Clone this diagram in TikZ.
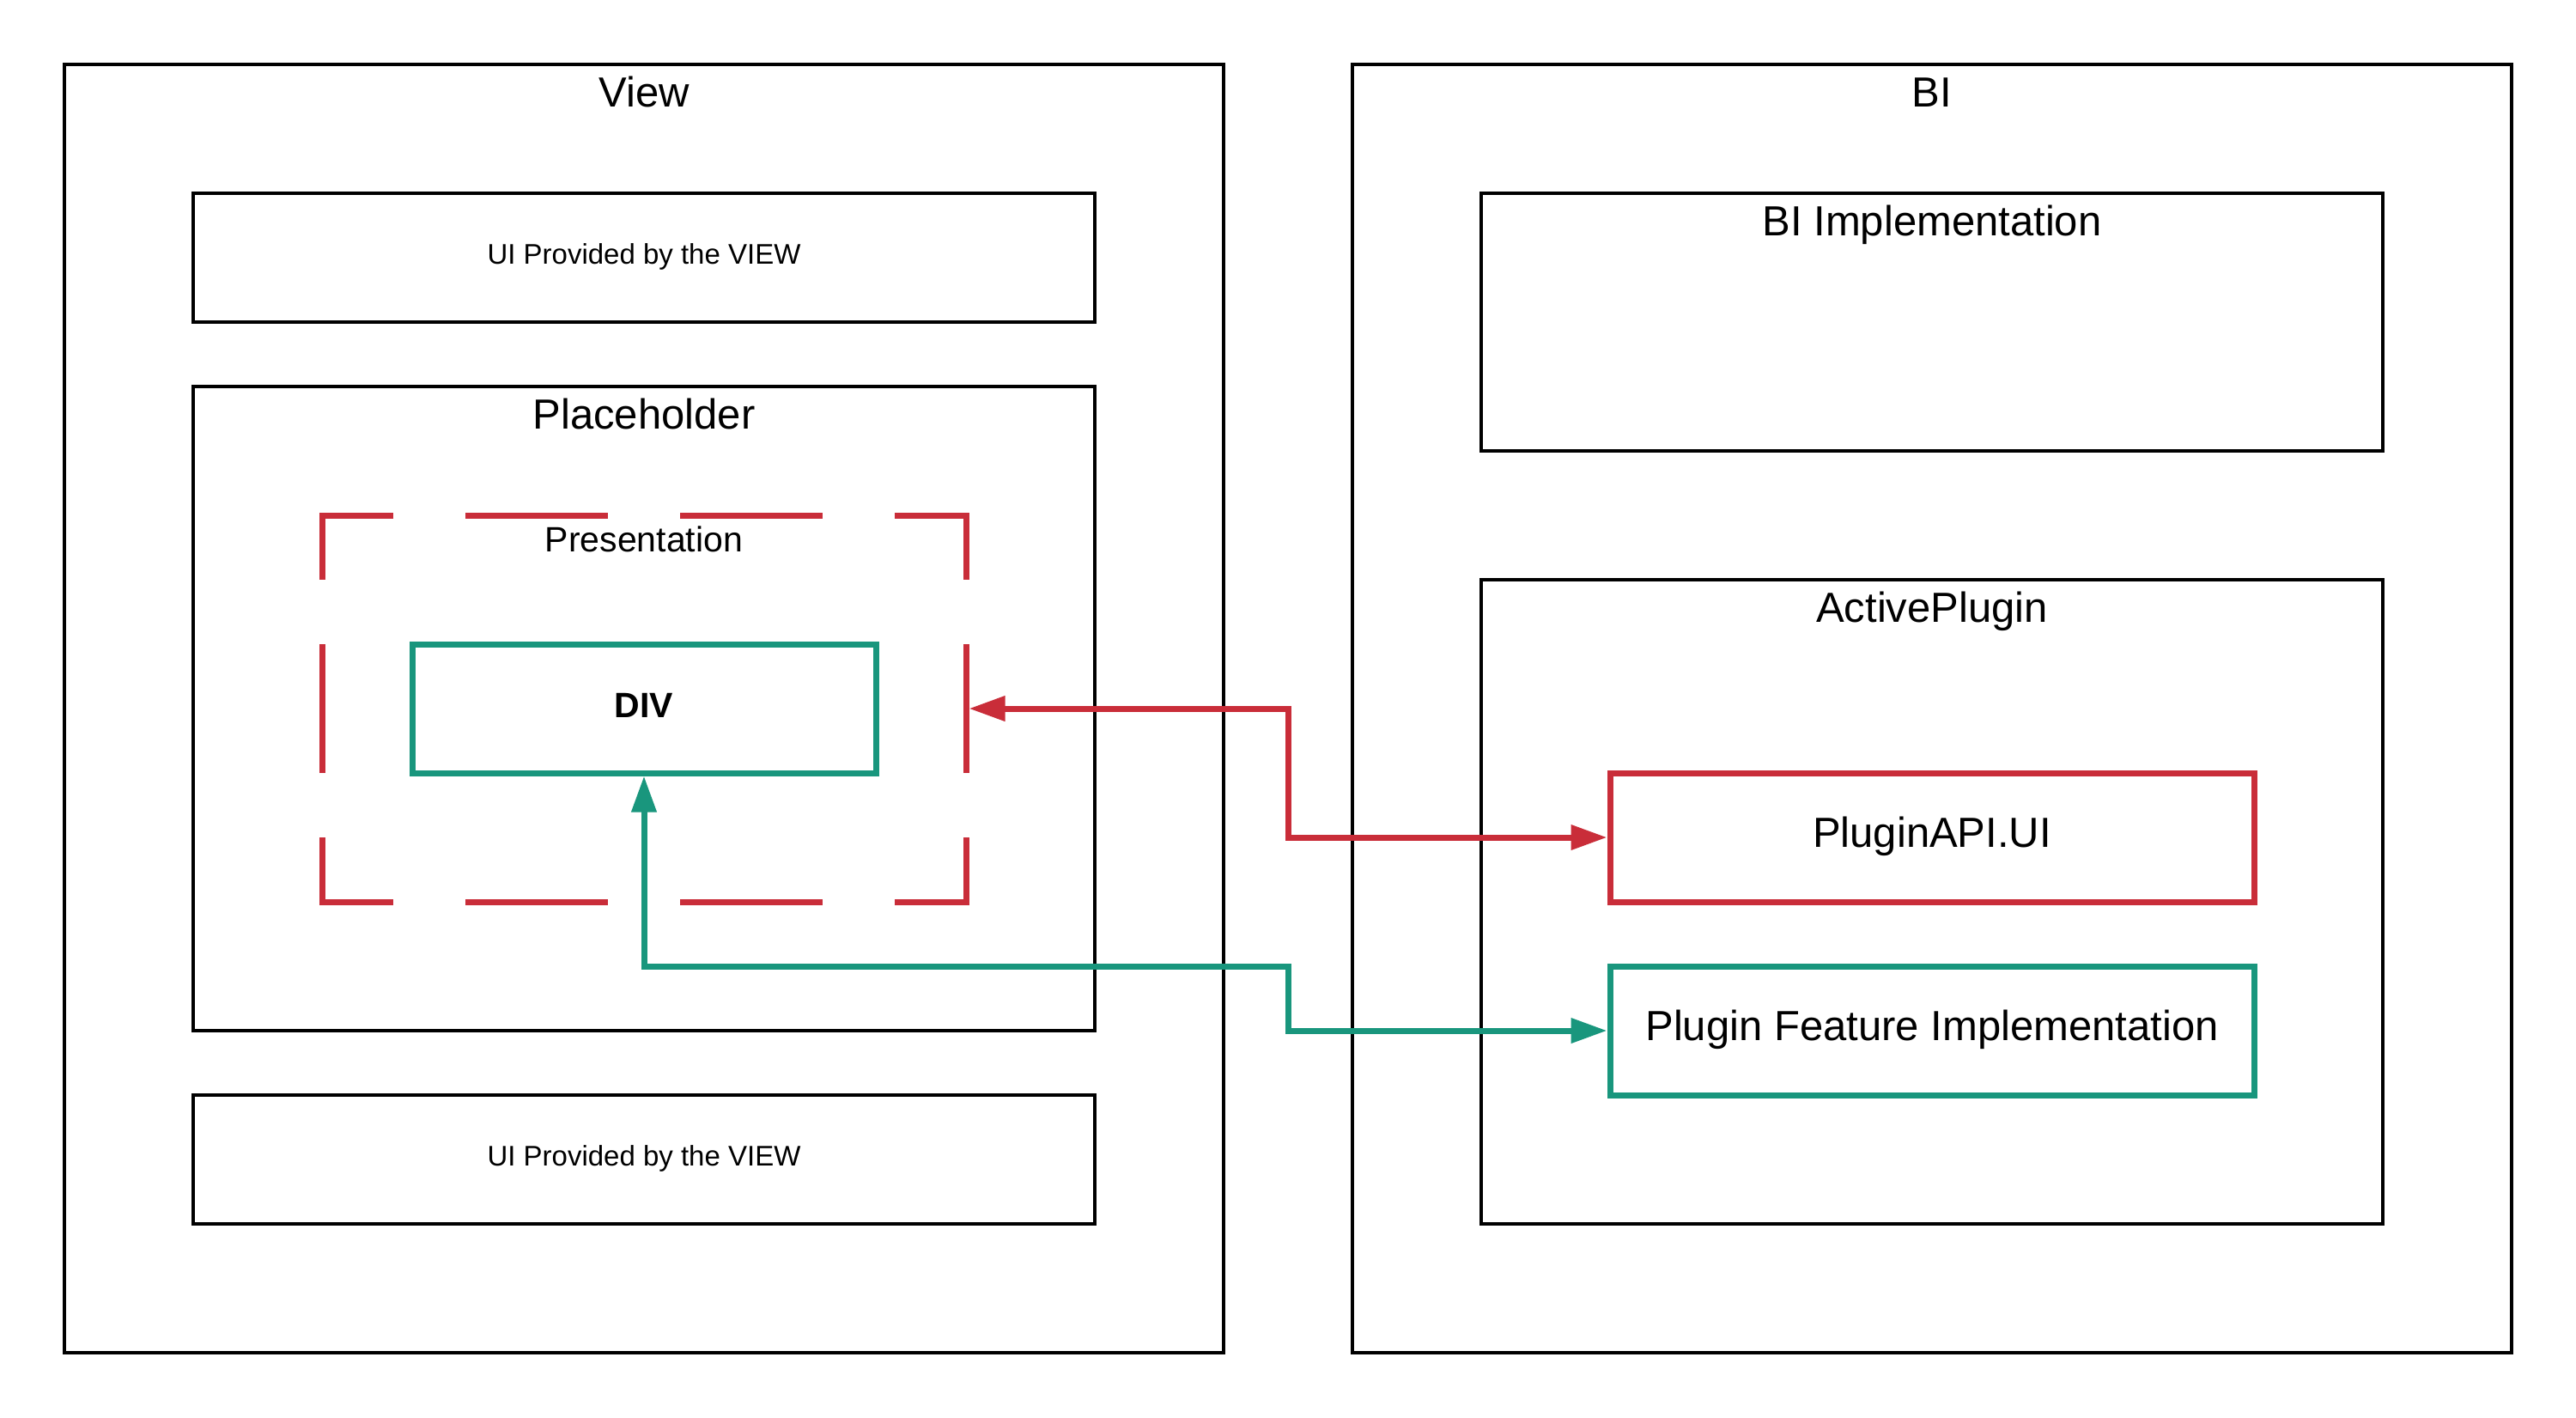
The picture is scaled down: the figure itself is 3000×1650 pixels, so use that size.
\documentclass[tikz,border=0pt]{standalone}
\usepackage{fontspec}
\setmainfont{Liberation Sans}
\usetikzlibrary{arrows.meta}
\definecolor{cred}{HTML}{C92D39}
\definecolor{cgreen}{HTML}{19967D}
\begin{document}
\begin{tikzpicture}[x=1pt,y=-1pt,
  >={Triangle[length=42pt,width=28pt]},
  blk/.style={draw=black, line width=4pt, inner sep=0pt, outer sep=2pt},
  bigfont/.style={font=\fontsize{49}{58}\selectfont},
  midfont/.style={font=\fontsize{41}{49}\selectfont},
  bigtxt/.style={bigfont, text height=35pt, text depth=13pt},
  midtxt/.style={text height=30pt, text depth=10pt},
  smalltxt/.style={font=\fontsize{33}{40}\selectfont, text height=24pt, text depth=10pt},
  ttl/.style={anchor=base, inner sep=0pt},
  redbox/.style={draw=cred, line width=7pt, inner sep=0pt, outer sep=3.5pt},
  greenbox/.style={draw=cgreen, line width=7pt, inner sep=0pt, outer sep=3.5pt},
  redline/.style={draw=cred, line width=7pt},
  greenline/.style={draw=cgreen, line width=7pt}
]
\useasboundingbox (0,0) rectangle (3000,1650);
\fill[white] (0,0) rectangle (3000,1650);

% containers
\node[blk, minimum width=1350pt, minimum height=1500pt] (view) at (750,825) {};
\node[blk, minimum width=1350pt, minimum height=1500pt] (bi) at (2250,825) {};
\node[ttl, bigfont] (viewT) at (750,124) {View};
\node[ttl, bigfont] (biT) at (2250,124) {BI};

% left side
\node[blk, smalltxt, minimum width=1050pt, minimum height=150pt] (uitop) at (750,300) {UI Provided by the VIEW};
\node[blk, minimum width=1050pt, minimum height=750pt] (place) at (750,825) {};
\node[ttl, bigfont] (placeT) at (750,499) {Placeholder};
\node[blk, smalltxt, minimum width=1050pt, minimum height=150pt] (uibot) at (750,1350) {UI Provided by the VIEW};

% presentation (dashed red frame)
\node[minimum width=750pt, minimum height=450pt, inner sep=0pt, outer sep=3.5pt] (pres) at (750,825) {};
\node[ttl, midfont] (presT) at (750,642) {Presentation};
\begin{scope}[draw=cred, line width=7pt, line cap=butt, line join=miter]
  \draw (458,600) -- (375,600) -- (375,675);
  \draw (542,600) -- (708,600);
  \draw (792,600) -- (958,600);
  \draw (1042,600) -- (1125,600) -- (1125,675);
  \draw (375,750) -- (375,900);
  \draw (1125,750) -- (1125,900);
  \draw (375,975) -- (375,1050) -- (458,1050);
  \draw (542,1050) -- (708,1050);
  \draw (792,1050) -- (958,1050);
  \draw (1125,975) -- (1125,1050) -- (1042,1050);
\end{scope}
\node[greenbox, midtxt, font=\fontsize{41}{49}\selectfont\bfseries, minimum width=540pt, minimum height=150pt] (div) at (750,825) {DIV};

% right side
\node[blk, minimum width=1050pt, minimum height=300pt] (impl) at (2250,375) {};
\node[ttl, bigfont] (implT) at (2250,274) {BI Implementation};
\node[blk, minimum width=1050pt, minimum height=750pt] (active) at (2250,1050) {};
\node[ttl, bigfont] (activeT) at (2250,724) {ActivePlugin};
\node[redbox, bigtxt, minimum width=750pt, minimum height=150pt] (api) at (2250,975) {PluginAPI.UI};
\node[greenbox, bigtxt, minimum width=750pt, minimum height=150pt] (feat) at (2250,1200) {Plugin Feature Implementation};

% connectors
\draw[redline, <->] (pres.east) -- (1500,825) |- (api.west);
\draw[greenline, <->] (div.south) |- (1500,1125) |- (feat.west);
\end{tikzpicture}
\end{document}
